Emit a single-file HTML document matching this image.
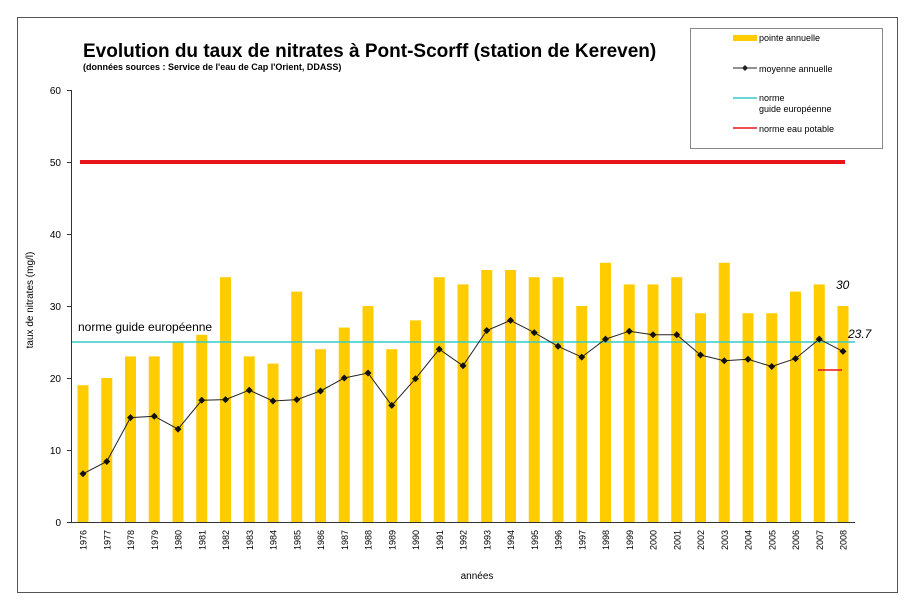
<!DOCTYPE html>
<html><head><meta charset="utf-8"><style>body{margin:0;background:#fff}svg{display:block;font-family:"Liberation Sans",Arial,sans-serif}</style></head><body>
<svg width="913" height="610" viewBox="0 0 913 610" xmlns="http://www.w3.org/2000/svg">
<rect x="17.5" y="17.5" width="880" height="575" fill="#fff" stroke="#555" stroke-width="1"/>
<text x="83" y="57" font-size="19" font-weight="bold">Evolution du taux de nitrates à Pont-Scorff (station de Kereven)</text>
<text x="83" y="70" font-size="9" font-weight="bold">(données sources : Service de l'eau de Cap l'Orient, DDASS)</text>
<g transform="translate(0,522) scale(1,-7.2)" fill="#FFCC00">
<rect x="77.5" width="11" height="19"/><rect x="101.25" width="11" height="20"/><rect x="125" width="11" height="23"/><rect x="148.75" width="11" height="23"/><rect x="172.5" width="11" height="25"/><rect x="196.25" width="11" height="26"/><rect x="220" width="11" height="34"/><rect x="243.75" width="11" height="23"/><rect x="267.5" width="11" height="22"/><rect x="291.25" width="11" height="32"/><rect x="315" width="11" height="24"/><rect x="338.75" width="11" height="27"/><rect x="362.5" width="11" height="30"/><rect x="386.25" width="11" height="24"/><rect x="410" width="11" height="28"/><rect x="433.75" width="11" height="34"/><rect x="457.5" width="11" height="33"/><rect x="481.25" width="11" height="35"/><rect x="505" width="11" height="35"/><rect x="528.75" width="11" height="34"/><rect x="552.5" width="11" height="34"/><rect x="576.25" width="11" height="30"/><rect x="600" width="11" height="36"/><rect x="623.75" width="11" height="33"/><rect x="647.5" width="11" height="33"/><rect x="671.25" width="11" height="34"/><rect x="695" width="11" height="29"/><rect x="718.75" width="11" height="36"/><rect x="742.5" width="11" height="29"/><rect x="766.25" width="11" height="29"/><rect x="790" width="11" height="32"/><rect x="813.75" width="11" height="33"/><rect x="837.5" width="11" height="30"/>
</g>
<line x1="80" y1="162" x2="845" y2="162" stroke="#E8141C" stroke-width="4"/>
<line x1="72" y1="342" x2="855" y2="342" stroke="#33CCCC" stroke-width="1.5"/>
<line x1="818" y1="370" x2="842" y2="370" stroke="#E8141C" stroke-width="1.5"/>
<defs><marker id="d" markerUnits="userSpaceOnUse" markerWidth="10" markerHeight="10" refX="5" refY="5"><path d="M5 1.5 L8.5 5 L5 8.5 L1.5 5Z" fill="#111"/></marker></defs>
<polyline fill="none" stroke="#222" stroke-width="1" marker-start="url(#d)" marker-mid="url(#d)" marker-end="url(#d)" points="83,473.8 106.75,461.5 130.5,417.6 154.25,416.2 178,429.1 201.75,400.3 225.5,399.6 249.25,390.2 273,401 296.75,399.6 320.5,391 344.25,378 368,373 391.75,405.4 415.5,378.7 439.25,349.2 463,365.8 486.75,330.5 510.5,320.4 534.25,332.6 558,346.3 581.75,357.1 605.5,339.1 629.25,331.2 653,334.8 676.75,334.8 700.5,355 724.25,360.7 748,359.3 771.75,366.5 795.5,358.6 819.25,339.1 843,351.4"/>
<g stroke="#333" stroke-width="1">
<line x1="71.5" y1="90" x2="71.5" y2="522"/><line x1="71" y1="522.5" x2="855" y2="522.5"/>
<line x1="67" y1="90.5" x2="71" y2="90.5"/><line x1="67" y1="162.5" x2="71" y2="162.5"/><line x1="67" y1="234.5" x2="71" y2="234.5"/><line x1="67" y1="306.5" x2="71" y2="306.5"/><line x1="67" y1="378.5" x2="71" y2="378.5"/><line x1="67" y1="450.5" x2="71" y2="450.5"/><line x1="67" y1="522.5" x2="71" y2="522.5"/>
</g>
<g font-size="10" text-anchor="end">
<text x="61" y="94">60</text><text x="61" y="166">50</text><text x="61" y="238">40</text><text x="61" y="310">30</text><text x="61" y="382">20</text><text x="61" y="454">10</text><text x="61" y="526">0</text>
</g>
<g font-size="9" text-anchor="end">
<text transform="translate(86.5,530) rotate(-90)">1976</text><text transform="translate(110.25,530) rotate(-90)">1977</text><text transform="translate(134,530) rotate(-90)">1978</text><text transform="translate(157.75,530) rotate(-90)">1979</text><text transform="translate(181.5,530) rotate(-90)">1980</text><text transform="translate(205.25,530) rotate(-90)">1981</text><text transform="translate(229,530) rotate(-90)">1982</text><text transform="translate(252.75,530) rotate(-90)">1983</text><text transform="translate(276.5,530) rotate(-90)">1984</text><text transform="translate(300.25,530) rotate(-90)">1985</text><text transform="translate(324,530) rotate(-90)">1986</text><text transform="translate(347.75,530) rotate(-90)">1987</text><text transform="translate(371.5,530) rotate(-90)">1988</text><text transform="translate(395.25,530) rotate(-90)">1989</text><text transform="translate(419,530) rotate(-90)">1990</text><text transform="translate(442.75,530) rotate(-90)">1991</text><text transform="translate(466.5,530) rotate(-90)">1992</text><text transform="translate(490.25,530) rotate(-90)">1993</text><text transform="translate(514,530) rotate(-90)">1994</text><text transform="translate(537.75,530) rotate(-90)">1995</text><text transform="translate(561.5,530) rotate(-90)">1996</text><text transform="translate(585.25,530) rotate(-90)">1997</text><text transform="translate(609,530) rotate(-90)">1998</text><text transform="translate(632.75,530) rotate(-90)">1999</text><text transform="translate(656.5,530) rotate(-90)">2000</text><text transform="translate(680.25,530) rotate(-90)">2001</text><text transform="translate(704,530) rotate(-90)">2002</text><text transform="translate(727.75,530) rotate(-90)">2003</text><text transform="translate(751.5,530) rotate(-90)">2004</text><text transform="translate(775.25,530) rotate(-90)">2005</text><text transform="translate(799,530) rotate(-90)">2006</text><text transform="translate(822.75,530) rotate(-90)">2007</text><text transform="translate(846.5,530) rotate(-90)">2008</text>
</g>
<text x="477" y="579" font-size="10" text-anchor="middle">années</text>
<text transform="translate(33,300) rotate(-90)" font-size="10" text-anchor="middle">taux de nitrates (mg/l)</text>
<text x="78" y="331" font-size="12">norme guide européenne</text>
<text x="836" y="289" font-size="12" font-style="italic">30</text>
<text x="848" y="338" font-size="12" font-style="italic">23.7</text>
<rect x="690.5" y="28.5" width="192" height="120" fill="#fff" stroke="#888"/>
<rect x="733" y="35" width="24" height="6" fill="#FFCC00"/>
<line x1="733" y1="68" x2="757" y2="68" stroke="#222"/><path d="M745 65 L748 68 L745 71 L742 68Z" fill="#222"/>
<line x1="733" y1="98" x2="757" y2="98" stroke="#33CCCC" stroke-width="1.5"/>
<line x1="733" y1="128" x2="757" y2="128" stroke="#E8141C" stroke-width="1.5"/>
<g font-size="9"><text x="759" y="41">pointe annuelle</text><text x="759" y="72">moyenne annuelle</text><text x="759" y="101">norme</text><text x="759" y="112">guide européenne</text><text x="759" y="132">norme eau potable</text></g>
</svg>
</body></html>
